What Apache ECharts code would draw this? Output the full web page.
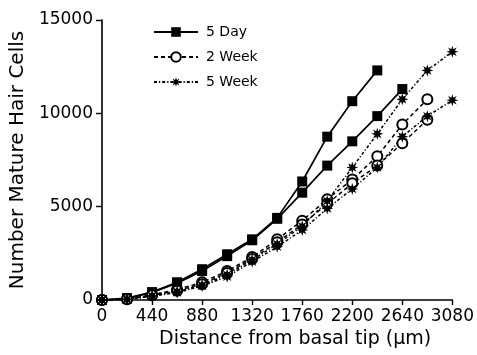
<!DOCTYPE html>
<html><head><meta charset="utf-8">
<script src="https://cdn.jsdelivr.net/npm/echarts@6/dist/echarts.min.js"></script>
<style>html,body{margin:0;padding:0;background:#fff}#c{width:477px;height:355px}</style>
</head><body><div id="c"></div>
<script>
// Distance from basal tip (µm)
const xValues = [0, 220, 440, 660, 880, 1100, 1320, 1540, 1760, 1980, 2200, 2420, 2640, 2860, 3080];
const xTickLabels = ['0', '440', '880', '1320', '1760', '2200', '2640', '3080'];
const yTickLabels = ['0', '5000', '10000', '15000'];
const seriesNames = ['5 Day', '2 Week', '5 Week'];

// Number of mature hair cells (two curves per age group)
const day5Upper  = [0, 100, 420, 950, 1650, 2450, 3250, 4400, 6350, 8750, 10650, 12300];
const day5Lower  = [0, 80, 400, 900, 1550, 2350, 3200, 4350, 5750, 7200, 8500, 9850, 11300];
const week2Upper = [0, 50, 280, 560, 950, 1550, 2300, 3250, 4250, 5400, 6450, 7700, 9400, 10750];
const week2Lower = [0, 40, 250, 500, 850, 1450, 2200, 3100, 4050, 5150, 6250, 7200, 8400, 9650];
const week5Upper = [0, 40, 230, 450, 800, 1350, 2150, 3000, 3950, 5300, 7100, 8900, 10750, 12300, 13300];
const week5Lower = [0, 30, 200, 400, 750, 1250, 2050, 2850, 3750, 4900, 5950, 7100, 8750, 9850, 10700];

function pairs(vals) { return vals.map((v, i) => [xValues[i], v]); }

// asterisk-like 8-point star symbol
function starPath() {
  let d = '';
  for (let k = 0; k < 16; k++) {
    const r = (k % 2 === 0) ? 10 : 4.6;
    const a = Math.PI * k / 8;
    const x = (r * Math.cos(a)).toFixed(2), y = (r * Math.sin(a)).toFixed(2);
    d += (k === 0 ? 'M' : 'L') + x + ',' + y;
  }
  return 'path://' + d + 'Z';
}
const STAR = starPath();

const font = 'DejaVu Sans';
const black = '#000';

function mk(name, vals, kind) {
  const base = {
    name: name, type: 'line', data: pairs(vals), animation: false,
    showAllSymbol: true, smooth: false
  };
  if (kind === 'day') {
    Object.assign(base, {
      symbol: 'rect', symbolSize: 10,
      itemStyle: { color: black },
      lineStyle: { color: black, width: 1.7, type: 'solid' }
    });
  } else if (kind === 'w2') {
    Object.assign(base, {
      symbol: 'emptyCircle', symbolSize: 10,
      itemStyle: { color: black, borderWidth: 1.7 },
      lineStyle: { color: black, width: 1.5, type: [4, 3] }
    });
  } else {
    Object.assign(base, {
      symbol: STAR, symbolSize: 12,
      itemStyle: { color: black },
      lineStyle: { color: black, width: 1.5, type: [3, 2, 1.2, 2] }
    });
  }
  return base;
}

const chart = echarts.init(document.getElementById('c'), null, { renderer: 'canvas' });
chart.setOption({
  backgroundColor: '#fff',
  animation: false,
  textStyle: { fontFamily: font, color: black },
  grid: { left: 102, right: 24, top: 20, bottom: 55, containLabel: false },
  legend: {
    data: seriesNames,
    orient: 'vertical', left: 148, top: 20,
    itemWidth: 44, itemHeight: 12, itemGap: 11,
    textStyle: { fontFamily: font, fontSize: 14, color: black, padding: [0, 0, 0, 3] }
  },
  xAxis: {
    type: 'value', min: 0, max: 3080, interval: 440,
    name: 'Distance from basal tip (µm)', nameLocation: 'middle', nameGap: 22,
    nameTextStyle: { fontFamily: font, fontSize: 19, color: black, padding: [0, 0, 0, 36] },
    axisLine: { show: true, lineStyle: { color: black, width: 1.6 } },
    axisTick: { show: true, length: 5, lineStyle: { color: black, width: 1.4 } },
    axisLabel: {
      fontFamily: font, fontSize: 17, color: black, margin: 8,
      formatter: v => xTickLabels[Math.round(v / 440)]
    },
    splitLine: { show: false }
  },
  yAxis: {
    type: 'value', min: 0, max: 15000, interval: 5000,
    name: 'Number Mature Hair Cells', nameLocation: 'middle', nameGap: 68,
    nameTextStyle: { fontFamily: font, fontSize: 20, color: black },
    axisLine: { show: true, lineStyle: { color: black, width: 1.6 } },
    axisTick: { show: true, length: 6, lineStyle: { color: black, width: 1.4 } },
    axisLabel: {
      fontFamily: font, fontSize: 17, color: black, margin: 9,
      formatter: v => yTickLabels[Math.round(v / 5000)]
    },
    splitLine: { show: false }
  },
  series: [
    mk('5 Day', day5Upper, 'day'),
    mk('5 Day', day5Lower, 'day'),
    mk('2 Week', week2Upper, 'w2'),
    mk('2 Week', week2Lower, 'w2'),
    mk('5 Week', week5Upper, 'w5'),
    mk('5 Week', week5Lower, 'w5')
  ]
});
</script>
</body></html>
